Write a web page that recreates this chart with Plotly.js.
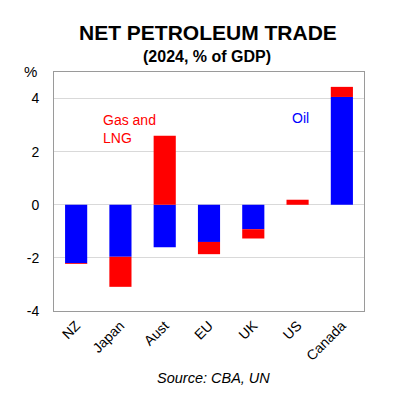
<!DOCTYPE html>
<html><head><meta charset="utf-8">
<script src="https://cdn.plot.ly/plotly-3.0.1.min.js"></script>
<style>html,body{margin:0;padding:0;background:#fff}#c{width:400px;height:400px}</style>
</head><body><div id="c"></div>
<script>
const categories = ["NZ","Japan","Aust","EU","UK","US","Canada"];
const oilValues = [-2.2, -1.96, -1.6, -1.4, -0.92, 0.0, 4.06];
const gasValues = [-0.03, -1.13, 2.6, -0.46, -0.35, 0.19, 0.38];
const yTickVals = [-4, -2, 0, 2, 4];
const yTickText = ["-4", "-2", "0", "2", "4"];

const F = "Liberation Sans, Arial, sans-serif";
const data = [
  {type:"bar", x:categories, y:oilValues, name:"Oil", marker:{color:"#0000ff"}, width:0.5, hoverinfo:"skip"},
  {type:"bar", x:categories, y:gasValues, name:"Gas and LNG", marker:{color:"#ff0000"}, width:0.5, hoverinfo:"skip"}
];
const layout = {
  width:400, height:400,
  margin:{l:54, r:36, t:72, b:89},
  barmode:"relative",
  showlegend:false,
  paper_bgcolor:"#fff", plot_bgcolor:"#fff",
  font:{family:F, size:12, color:"#000"},
  xaxis:{tickangle:-45, showline:true, linecolor:"#9a9a9a", linewidth:1, mirror:true,
         ticks:"", showgrid:false, tickfont:{size:14, family:F}, fixedrange:true},
  yaxis:{range:[-4,5], tickvals:yTickVals, ticktext:yTickText, showline:true, linecolor:"#9a9a9a",
         linewidth:1, mirror:true, ticks:"", showgrid:true, gridcolor:"#d9d9d9", zeroline:true,
         zerolinecolor:"#d9d9d9", zerolinewidth:1, ticklabelstandoff:11, tickfont:{size:14, family:F}, fixedrange:true},
  annotations:[
    {text:"<b>NET PETROLEUM TRADE</b>", xref:"paper", yref:"paper", x:0.497, y:(400-33-89)/239, xanchor:"center", yanchor:"middle", showarrow:false, font:{size:21, family:F, color:"#000"}},
    {text:"<b>(2024, % of GDP)</b>", xref:"paper", yref:"paper", x:0.495, y:(400-56-89)/239, xanchor:"center", yanchor:"middle", showarrow:false, font:{size:16, family:F, color:"#000"}},
    {text:"%", xref:"paper", yref:"paper", x:-0.05, y:(400-71-89)/239, xanchor:"right", yanchor:"middle", showarrow:false, font:{size:15, family:F, color:"#000"}},
    {text:"Gas and<br>LNG", xref:"paper", yref:"paper", x:(101-54)/310, y:(400-129-89)/239, xanchor:"left", yanchor:"middle", align:"left", showarrow:false, font:{size:14, family:F, color:"#ff0000"}},
    {text:"Oil", xref:"paper", yref:"paper", x:(300-54)/310, y:(400-118-89)/239, xanchor:"center", yanchor:"middle", showarrow:false, font:{size:14, family:F, color:"#0000ff"}},
    {text:"<i>Source: CBA, UN</i>", xref:"paper", yref:"paper", x:(213-54)/310, y:(400-378-89)/239, xanchor:"center", yanchor:"middle", showarrow:false, font:{size:14.5, family:F, color:"#000"}}
  ]
};
Plotly.newPlot("c", data, layout, {staticPlot:true, displayModeBar:false});
</script></body></html>
